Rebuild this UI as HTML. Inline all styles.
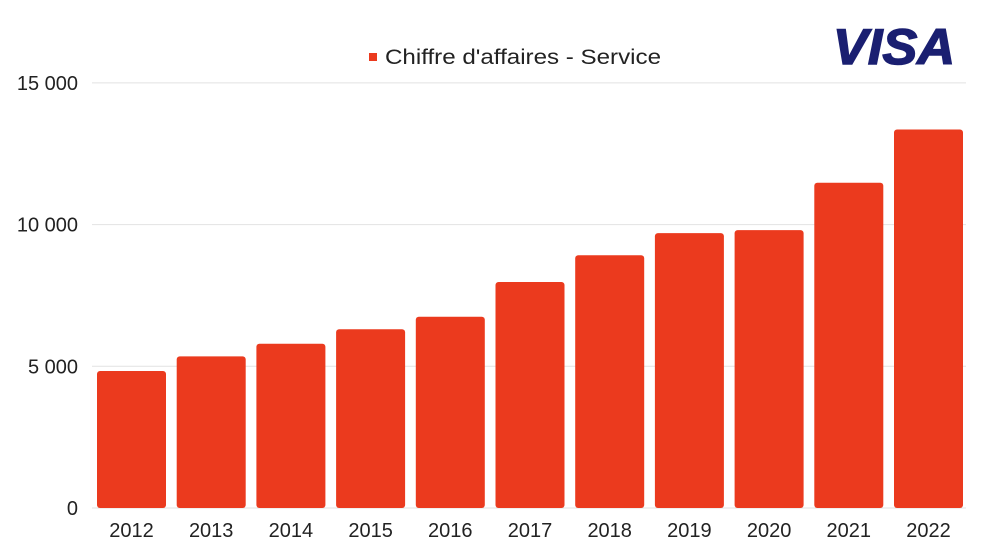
<!DOCTYPE html>
<html><head><meta charset="utf-8"><style>
body{margin:0;background:#fff;}
svg{display:block;font-family:"Liberation Sans",sans-serif;}
</style></head><body>
<svg id="chart" width="1000" height="560" viewBox="0 0 1000 560">
<g id="grid"></g>
<g id="yaxis"></g>
<g id="bars"></g>
<g id="xaxis"></g>
<g>
<rect x="369" y="53" width="8" height="8" fill="#eb3a1e"/>
<text x="385" y="64" font-size="21" fill="#222" textLength="276" lengthAdjust="spacingAndGlyphs">Chiffre d'affaires - Service</text>
</g>
<text x="833" y="64" font-size="50" font-weight="900" font-style="italic" fill="#1a1f71" textLength="122" lengthAdjust="spacingAndGlyphs" stroke="#1a1f71" stroke-width="1.5">VISA</text>
</svg>
<script>
const categories=["2012","2013","2014","2015","2016","2017","2018","2019","2020","2021","2022"];
const values=[4836,5351,5797,6306,6750,7975,8918,9701,9804,11475,13357];
const yTicks=[0,5000,10000,15000];
const yTickLabels=["0","5 000","10 000","15 000"];
const NS="http://www.w3.org/2000/svg";
const y0=508,pxPer=141.7/5000,xStart=97,step=79.7,bw=69;
const y=v=>y0-v*pxPer;
const x=i=>xStart+i*step;
function mk(t,a,p){const e=document.createElementNS(NS,t);for(const k in a)e.setAttribute(k,a[k]);p.appendChild(e);return e;}
const g=document.getElementById('grid'),ya=document.getElementById('yaxis'),b=document.getElementById('bars'),xa=document.getElementById('xaxis');
yTicks.forEach((t,i)=>{
 const l=mk('line',{x1:92,x2:966,y1:y(t),y2:y(t),stroke:'#e2e2e2','stroke-width':1},g);
 
 
 const tx=mk('text',{x:78,y:y(t)+7,'font-size':20,fill:'#222','text-anchor':'end'},ya);
 tx.textContent=yTickLabels[i];
 
 
});
categories.forEach((c,i)=>{
 const r=mk('rect',{x:x(i),y:y(values[i]),width:bw,height:y0-y(values[i]),fill:'#eb3a1e',rx:3},b);
 
 
 const tx=mk('text',{x:x(i)+bw/2,y:537,'font-size':20,fill:'#222','text-anchor':'middle'},xa);
 tx.textContent=c;
 
 
});
</script>
</body></html>
